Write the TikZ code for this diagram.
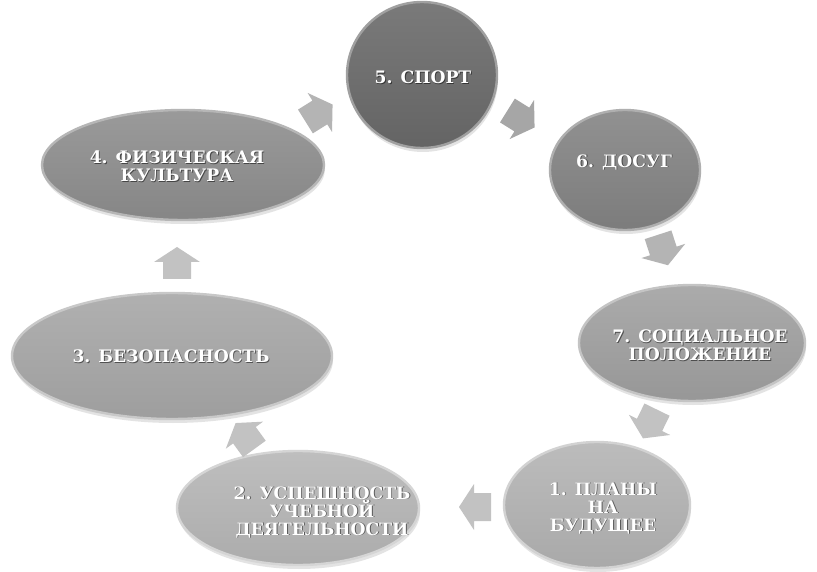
\documentclass[tikz,border=0pt]{standalone}
\usepackage{fontspec}
\setmainfont{DejaVu Serif}
\usetikzlibrary{shapes.geometric,shadows}
\definecolor{a5t}{HTML}{7A7A7A}\definecolor{a5b}{HTML}{646464}\definecolor{a5r}{HTML}{A0A0A0}
\definecolor{a6t}{HTML}{919191}\definecolor{a6b}{HTML}{7C7C7C}\definecolor{a6r}{HTML}{AFAFAF}
\definecolor{a4t}{HTML}{9A9A9A}\definecolor{a4b}{HTML}{868686}\definecolor{a4r}{HTML}{B6B6B6}
\definecolor{a3t}{HTML}{B0B0B0}\definecolor{a3b}{HTML}{9E9E9E}\definecolor{a3r}{HTML}{C8C8C8}
\definecolor{a7t}{HTML}{ABABAB}\definecolor{a7b}{HTML}{979797}\definecolor{a7r}{HTML}{C4C4C4}
\definecolor{a1t}{HTML}{BCBCBC}\definecolor{a1b}{HTML}{A9A9A9}\definecolor{a1r}{HTML}{D2D2D2}
\definecolor{a2t}{HTML}{BEBEBE}\definecolor{a2b}{HTML}{ACACAC}\definecolor{a2r}{HTML}{D5D5D5}
\definecolor{arrA}{HTML}{B4B4B4}\definecolor{arrB}{HTML}{A6A6A6}\definecolor{arrC}{HTML}{C2C2C2}
\tikzset{
  ell/.style n args={3}{ellipse, inner sep=0pt, outer sep=0pt, line width=2.4pt,
    draw=#3, top color=#1, bottom color=#2,
    drop shadow={opacity=0.22, shadow xshift=1pt, shadow yshift=-4pt}},
  lbl/.style={font=\bfseries\fontsize{17.2}{18}\selectfont, text=white, align=center, inner sep=0pt},
  lblsh/.style={lbl, text=black, opacity=0.5},
  pics/barrow/.style={code={
    \fill[#1] (-16,-14) -- (1,-14) -- (1,-23) -- (16,0) -- (1,23) -- (1,14) -- (-16,14) -- cycle;}}
}
\newcommand\mylabel[3]{%
  \node[lblsh] (#1s) at ([shift={(0.9,0.9)}]#2) {#3};
  \node[lbl] (#1) at (#2) {#3};}
\begin{document}
\begin{tikzpicture}[x=1pt,y=-1pt]
\useasboundingbox (0,0) rectangle (817,572);
\fill[white] (0,0) rectangle (817,572);
% ellipses
\node[ell={a5t}{a5b}{a5r}, minimum width=150, minimum height=146] (e5) at (422,75) {};
\node[ell={a6t}{a6b}{a6r}, minimum width=150, minimum height=120] (e6) at (625,170) {};
\node[ell={a4t}{a4b}{a4r}, minimum width=282, minimum height=110] (e4) at (183,165) {};
\node[ell={a3t}{a3b}{a3r}, minimum width=320, minimum height=126] (e3) at (172,356) {};
\node[ell={a7t}{a7b}{a7r}, minimum width=226, minimum height=116] (e7) at (692,343) {};
\node[ell={a1t}{a1b}{a1r}, minimum width=186, minimum height=126] (e1) at (597,505) {};
\node[ell={a2t}{a2b}{a2r}, minimum width=242, minimum height=114] (e2) at (298,508) {};
% labels
\mylabel{t5}{423,77}{5. СПОРТ}
\mylabel{t6}{624,162}{6. ДОСУГ}
\mylabel{t4}{177,166}{4. ФИЗИЧЕСКАЯ\\КУЛЬТУРА}
\mylabel{t3}{171,356}{3. БЕЗОПАСНОСТЬ}
\mylabel{t7}{700,345}{7. СОЦИАЛЬНОЕ\\ПОЛОЖЕНИЕ}
\mylabel{t1}{603,508}{1. ПЛАНЫ\\НА\\БУДУЩЕЕ}
\mylabel{t2}{322,512}{2. УСПЕШНОСТЬ\\УЧЕБНОЙ\\ДЕЯТЕЛЬНОСТИ}
% arrows
\pic[rotate=32] (p45) at (319,113) {barrow=arrA};
\pic[rotate=-32] (p56) at (521,119) {barrow=arrB};
\pic[rotate=-72] (p67) at (663,250) {barrow=arrA};
\pic[rotate=-116] (p71) at (650,424) {barrow=arrC};
\pic[rotate=180] (p12) at (475,507) {barrow=arrC};
\pic[rotate=126] (p23) at (245,436) {barrow=arrC};
\pic[rotate=90] (p34) at (177,263) {barrow=arrC};
\end{tikzpicture}
\end{document}
